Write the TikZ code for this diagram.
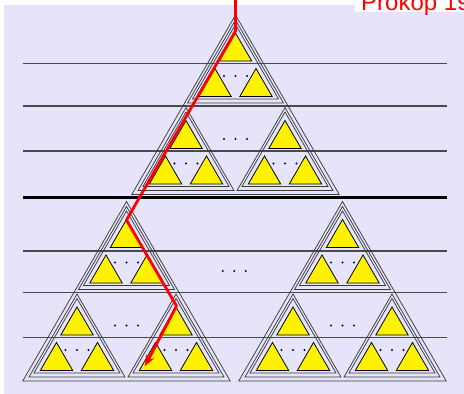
\documentclass[tikz,border=0pt]{standalone}
\usepackage{fontspec}
\setmainfont{Liberation Sans}
\usetikzlibrary{arrows.meta}
\definecolor{bgcol}{HTML}{E6E4FB}
\definecolor{outl}{HTML}{3C3C3C}
\definecolor{hlcol}{HTML}{4A4A4A}
\tikzset{
  leafsty/.style={fill=yellow, draw=black, line width=0.8pt, line join=miter},
  outsty/.style={draw=outl, line width=0.75pt},
  dotsty/.style={fill=black!75!blue},
  hl/.style={draw=hlcol, line width=1.4pt},
  hlthick/.style={draw=black, line width=2.6pt},
  redpath/.style={draw=red, line width=2.8pt, line join=round, -{Stealth[length=11pt,width=9pt]}},
  leaf/.pic={\draw[leafsty] (0,0) -- (16.2,28) -- (-16.2,28) -- cycle;},
  dotsrow/.pic={\foreach \dx in {-11.5,0,11.5} \fill[dotsty] (\dx,0) circle[radius=1.1pt];},
  lone/.pic={
    \draw[outsty] (0,0) -- (48,83) -- (-48,83) -- cycle;
    \draw[outsty] (0,4.5) -- (43.06,79) -- (-43.06,79) -- cycle;
    \pic at (0,13) {leaf};
    \pic at (-20.5,48.5) {leaf};
    \pic at (20.5,48.5) {leaf};
    \pic at (0,56) {dotsrow};
  },
  ltwo/.pic={
    \draw[outsty] (0,-5) -- (103.75,174.5) -- (-103.75,174.5) -- cycle;
    \pic at (0,0) {lone};
    \pic at (-49.5,87.5) {lone};
    \pic at (49.5,87.5) {lone};
    \pic at (0,119) {dotsrow};
  },
}
\begin{document}
\begin{tikzpicture}[x=1pt,y=-1pt]
\useasboundingbox (0,0) rectangle (464,394);
\fill[white] (0,0) rectangle (464,394);
\fill[bgcol] (4,5) rectangle (464,394);
\fill[white] (355,0) rectangle (464,12);
% horizontal level lines
\foreach \yy in {63.5,106,151,251,292.5,337.5}
  \draw[hl] (22.5,\yy) -- (446.5,\yy);
\draw[hlthick] (22.5,197.5) -- (446.5,197.5);
% recursive triangles
\pic at (235.5,20) {ltwo};
\pic at (126.5,206.5) {ltwo};
\pic at (342.5,206.5) {ltwo};
\pic at (234.3,271) {dotsrow};
% search path
\coordinate (r0) at (235.5,-3);
\coordinate (r1) at (235.5,31);
\coordinate (r2) at (126.5,220);
\coordinate (r3) at (176.5,306);
\coordinate (r4) at (145,366);
\draw[redpath] (r0) -- (r1) -- (r2) -- (r3) -- (r4);
% title fragment
\node[anchor=base west, inner sep=0pt, text=red, font=\fontsize{24}{26}\selectfont] (title) at (361,10) {Prokop 1999};
\end{tikzpicture}
\end{document}
